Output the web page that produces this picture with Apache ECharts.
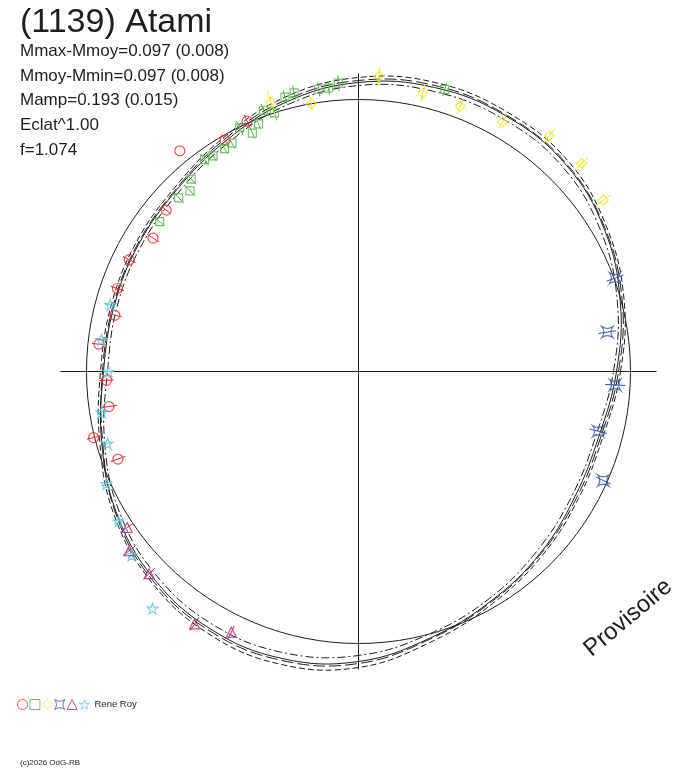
<!DOCTYPE html>
<html>
<head>
<meta charset="utf-8">
<title>(1139) Atami</title>
<script src="https://cdn.jsdelivr.net/npm/echarts@6/dist/echarts.min.js"></script>
<style>
  html, body { margin: 0; padding: 0; background: #fff; }
  #chart { width: 688px; height: 768px; }
</style>
</head>
<body>
<div id="chart"></div>
<script>
// angles: rotation phase in degrees, counter-clockwise from the right
// radii: plot units (ring of mean brightness at 272)
const curveAngles = [0, 15, 30, 45, 60, 75, 90, 105, 120, 135, 150, 165,
  180, 195, 210, 225, 240, 255, 270, 285, 300, 315, 330, 345]
const fitSolid = [258, 271, 284, 293, 295, 294, 289, 279, 266, 257, 254, 253,
  255, 266, 280, 291, 297, 297, 290, 276, 265, 257, 250, 249]
const fitDashed = [262, 275, 287, 297, 299, 299, 294, 284, 270, 260, 257, 256,
  258, 268, 283, 295, 302, 303, 296, 280, 268, 260, 254, 253]
const fitDashDot = [255, 268, 280, 289, 291, 290, 286, 276, 263, 254, 251, 250,
  251, 263, 277, 287, 292, 291, 284, 272, 262, 253, 247, 246]
const fitLongDash = [260, 273, 285, 294, 296, 296, 291, 281, 268, 258, 255, 254,
  256, 265, 281, 293, 299, 299, 292, 277, 266, 258, 252, 251]
const meanRadius = 272

// observations: [angle, radius, error half-length] (0 = rejected point, no bar)
const obsCircle = [[114, 274, 7], [120, 267, 7], [129, 284, 0], [140, 251, 6], [147, 245, 7],
  [154, 255, 7], [161, 255, 7], [167, 250, 7], [174, 261, 7], [182, 252, 7],
  [188, 252, 8], [194, 273, 7], [200, 256, 8]]
const obsSquare = [[73, 295, 7], [94, 289, 8], [96, 285, 7], [98, 285, 7], [103, 286, 7],
  [105, 284, 7], [108, 272, 8], [110, 278, 7], [112, 267, 6], [114, 261, 6],
  [116, 271, 8], [119, 261, 6], [121, 260, 6], [124, 260, 6], [126, 262, 7],
  [131, 255, 7], [133, 247, 7], [136, 250, 7], [143, 249, 6]]
const obsDiamond = [[35, 299, 9], [43, 305, 9], [51, 303, 9], [60, 288, 8], [69, 284, 8],
  [77, 286, 9], [86, 296, 9], [100, 272, 7], [108, 283, 12]]
const obsCross = [[20, 273, 9], [9, 252, 9], [357, 257, 10], [346, 247, 9], [336, 268, 8]]
const obsTriangle = [[214, 279, 7], [218, 291, 8], [224, 291, 8], [237, 301, 8], [244, 290, 7]]
const obsStar = [[165, 257, 5], [173, 259, 6], [180, 250, 5], [189, 260, 5], [196, 261, 4],
  [204, 276, 6], [212, 283, 5], [219, 292, 5], [229, 314, 0]]

const statLines = ['Mmax-Mmoy=0.097 (0.008)', 'Mmoy-Mmin=0.097 (0.008)',
  'Mamp=0.193 (0.015)', 'Eclat^1.00', 'f=1.074']

const FONT = 'Liberation Sans, Arial, sans-serif'
const INK = '#1e1e1e'

const STAR = 'path://M0,-10L2.35,-3.24L9.51,-3.09L3.8,1.24L5.88,8.09L0,4L-5.88,8.09L-3.8,1.24L-9.51,-3.09L-2.35,-3.24Z'
const ASTROID = 'path://M-5,-5Q0,-1.5 5,-5Q1.5,0 5,5Q0,1.5 -5,5Q-1.5,0 -5,-5Z'

let sets = [
  { name: 's1', pts: obsCircle, color: '#e62a30', symbol: 'circle', size: 10 },
  { name: 's2', pts: obsSquare, color: '#52b443', symbol: 'rect', size: 8 },
  { name: 's3', pts: obsDiamond, color: '#f4e41a', symbol: 'diamond', size: 10 },
  { name: 's4', pts: obsCross, color: '#3652a4', symbol: ASTROID, size: 11 },
  { name: 's5', pts: obsTriangle, color: '#b2267a', symbol: 'triangle', size: 10 },
  { name: 'Rene Roy', pts: obsStar, color: '#5cc6de', symbol: STAR, size: 11 }
]

// closed fit curve, drawn as one smooth loop through the read points
function fitCurve(values, dash) {
  let data = curveAngles.map(function (a, i) {
    return [values[i], a]
  })
  return {
    type: 'custom',
    coordinateSystem: 'polar',
    data: data,
    silent: true,
    z: 2,
    renderItem: function (params, api) {
      if (params.dataIndex !== 0) return null
      let pts = data.map(function (d) { return api.coord(d) })
      return {
        type: 'polygon',
        shape: { points: pts, smooth: 0.4 },
        style: { fill: 'none', stroke: INK, lineWidth: 1, lineDash: dash }
      }
    }
  }
}

let series = [
  fitCurve(fitSolid, null),
  fitCurve(fitDashed, [6, 3]),
  fitCurve(fitDashDot, [8, 3, 2, 3]),
  fitCurve(fitLongDash, [12, 4]),
  // mean brightness ring
  {
    type: 'custom',
    coordinateSystem: 'polar',
    data: [[meanRadius, 0]],
    silent: true,
    z: 2,
    renderItem: function (params, api) {
      let c = api.coord([0, 0])
      let p = api.coord([api.value(0), 0])
      return {
        type: 'circle',
        shape: { cx: c[0], cy: c[1], r: Math.hypot(p[0] - c[0], p[1] - c[1]) },
        style: { fill: 'none', stroke: INK, lineWidth: 1 }
      }
    }
  }
]

sets.forEach(function (s) {
  // radial error bars
  series.push({
    type: 'custom',
    name: s.name + ' err',
    coordinateSystem: 'polar',
    silent: true,
    z: 3,
    data: s.pts.filter(function (p) { return p[2] > 0 }).map(function (p) {
      return [p[1], p[0], p[2]]
    }),
    renderItem: function (params, api) {
      let r = api.value(0)
      let a = api.value(1)
      let e = api.value(2)
      let p1 = api.coord([r - e, a])
      let p2 = api.coord([r + e, a])
      return {
        type: 'line',
        shape: { x1: p1[0], y1: p1[1], x2: p2[0], y2: p2[1] },
        style: { stroke: s.color, lineWidth: 1 }
      }
    }
  })
  series.push({
    type: 'scatter',
    name: s.name,
    coordinateSystem: 'polar',
    data: s.pts.map(function (p) { return [p[1], p[0]] }),
    symbol: s.symbol,
    symbolSize: s.size,
    clip: false,
    silent: true,
    z: 4,
    itemStyle: { color: 'rgba(0,0,0,0)', borderColor: s.color, borderWidth: 1.2 }
  })
})

let chart = echarts.init(document.getElementById('chart'))
chart.setOption({
  animation: false,
  backgroundColor: '#fff',
  title: [{
    text: '(1139) Atami',
    left: 15,
    top: 1,
    textStyle: { fontSize: 34, fontWeight: 'normal', color: INK, fontFamily: FONT }
  }, {
    text: statLines.join('\n'),
    left: 15,
    top: 34,
    textStyle: { fontSize: 17, lineHeight: 24.7, fontWeight: 'normal', color: INK, fontFamily: FONT }
  }],
  legend: {
    data: sets.map(function (s) { return s.name }),
    left: 17,
    top: 699,
    padding: 0,
    itemWidth: 10,
    itemHeight: 10,
    itemGap: 1.4,
    selectedMode: false,
    formatter: function (name) {
      return name === 'Rene Roy' ? name : ''
    },
    itemStyle: { borderWidth: 1 },
    textStyle: { fontSize: 9.5, color: INK, fontFamily: FONT }
  },
  polar: {
    center: [358.5, 371.5],
    radius: 298
  },
  angleAxis: {
    type: 'value',
    min: 0,
    max: 360,
    interval: 90,
    startAngle: 0,
    clockwise: false,
    axisLine: { show: false },
    axisTick: { show: false },
    axisLabel: { show: false },
    splitLine: { show: true, lineStyle: { color: INK, width: 1 } }
  },
  radiusAxis: {
    type: 'value',
    min: 0,
    max: 298,
    show: false
  },
  graphic: [{
    type: 'text',
    x: 628,
    y: 618,
    rotation: 40 * Math.PI / 180,
    style: {
      text: 'Provisoire',
      fontSize: 24,
      fontFamily: FONT,
      fill: INK,
      align: 'center',
      verticalAlign: 'middle'
    }
  }, {
    type: 'text',
    x: 20,
    y: 763,
    style: {
      text: '(c)2026 OdG-RB',
      fontSize: 8,
      fontFamily: FONT,
      fill: INK,
      verticalAlign: 'middle'
    }
  }],
  series: series
})
</script>
</body>
</html>
